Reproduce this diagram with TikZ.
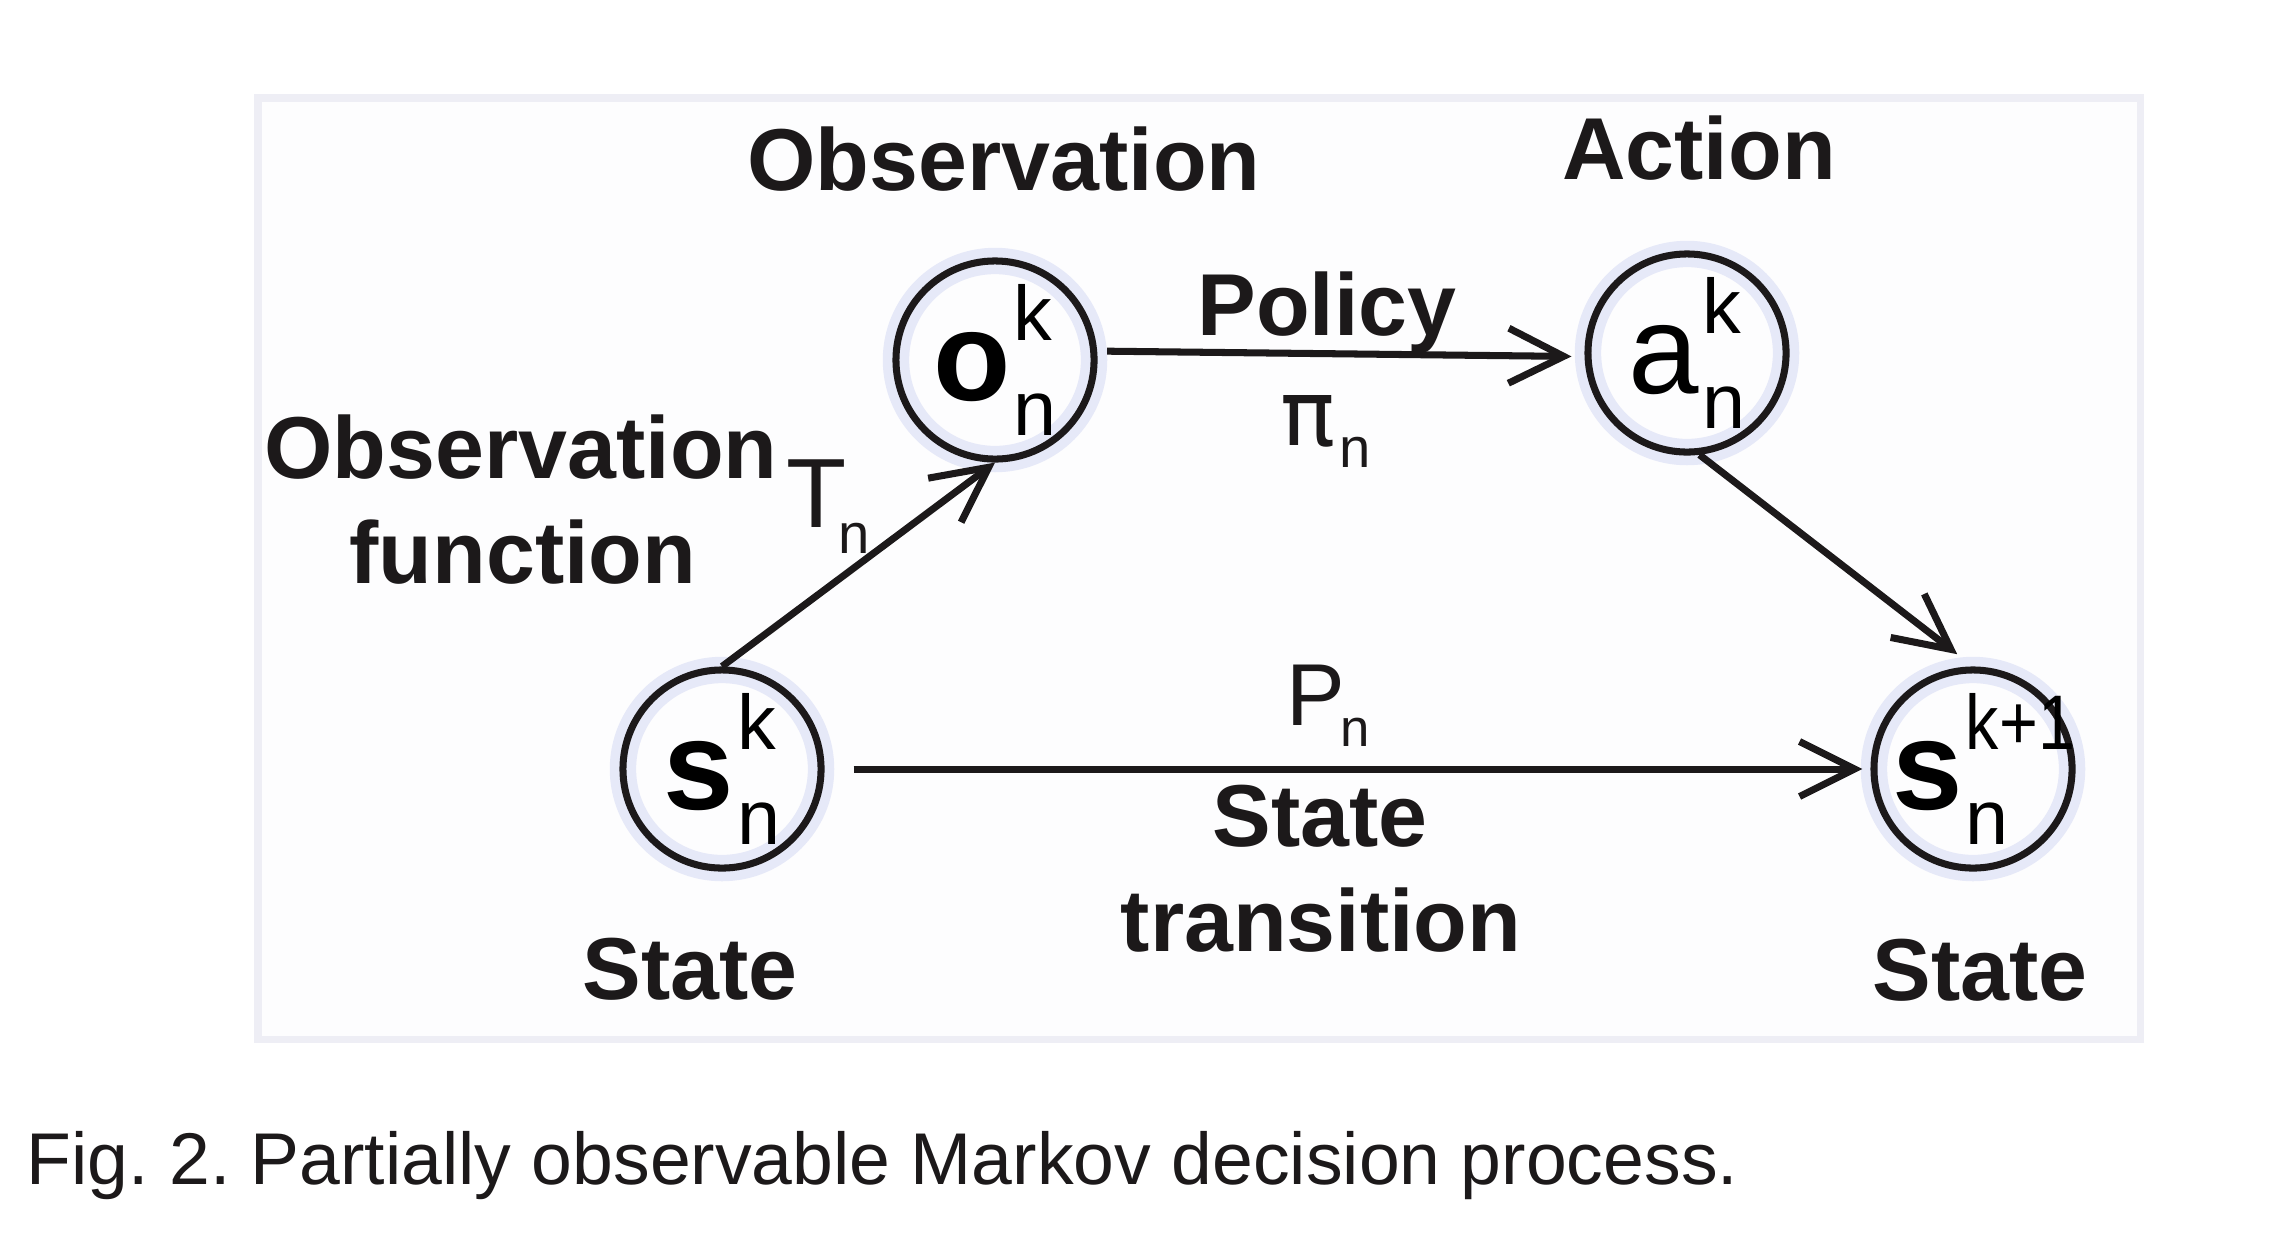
\documentclass[tikz,border=0pt]{standalone}
\usepackage{fontspec}
\usepackage{graphicx}
\setmainfont{Liberation Sans}
\newfontfamily\pifont{DejaVu Sans}
\usetikzlibrary{arrows.meta}

\definecolor{framegray}{RGB}{238,238,245}
\definecolor{paperwhite}{RGB}{253,253,254}
\definecolor{haloblue}{RGB}{230,233,248}
\definecolor{inkblack}{RGB}{28,25,26}

\newsavebox\supbox
\newsavebox\subbox
\newlength\stackwd
% main letter with k on top of n, both to its right
\newcommand{\stvar}[4][0pt]{\makebox[0pt]{\hspace*{#1}{\fontsize{36}{36}\selectfont #2}\hspace{1pt}%
  \sbox\supbox{\fontsize{22}{22}\selectfont #3}\sbox\subbox{\fontsize{22}{22}\selectfont #4}%
  \ifdim\wd\supbox>\wd\subbox\setlength\stackwd{\wd\supbox}\else\setlength\stackwd{\wd\subbox}\fi
  \makebox[\stackwd][l]{\rlap{\raisebox{17pt}{\usebox\supbox}}\raisebox{-10pt}{\usebox\subbox}}}}

\begin{document}
\frenchspacing
\begin{tikzpicture}[x=0.01cm, y=-0.01cm,
    state/.style={circle, draw=inkblack, line width=2pt, minimum size=1.98cm, inner sep=0pt,
        preaction={draw=haloblue, line width=7.5pt}},
    flow/.style={draw=inkblack, line width=2pt, -{Straight Barb[length=0.55cm, width=0.55cm]}},
    lbl/.style={anchor=base, inner sep=0pt, text=inkblack, font=\fontsize{25}{25}\selectfont\bfseries},
    sym/.style={anchor=base west, inner sep=0pt, text=inkblack}]
    \useasboundingbox (0,0) rectangle (2286,1242);
    \draw[framegray, line width=2pt, fill=paperwhite] (258,98) rectangle (2140,1039);

    \node[state] (sk)  at (722,769)  {\stvar{\bfseries s}{k}{n}};
    \node[state] (ok)  at (995,360)  {\stvar{\bfseries o}{k}{n}};
    \node[state] (ak)  at (1687,353) {\stvar{a}{k}{n}};
    \node[state] (sk1) at (1973,769) {\stvar[6pt]{\bfseries s}{\scalebox{0.86}[1]{k+1}}{n}};

    \node[lbl] (obstop) at (1004,190) {Observation};
    \node[lbl] (acttop) at (1699,179) {Action};
    \node[lbl] (policy) at (1327,335) {Policy};
    \node[lbl] (obsfuna) at (521,478) {Observation};
    \node[lbl] (obsfunb) at (523,583) {function};
    \node[lbl] (trana) at (1320,846) {State};
    \node[lbl] (tranb) at (1321,951) {transition};
    \node[lbl] (stleft) at (690,999) {State};
    \node[lbl] (stright) at (1980,1000) {State};

    \node[sym] (pin) at (1280,445) {{\pifont\fontsize{26}{26}\selectfont π}\kern1pt\raisebox{-6.5pt}{\fontsize{16}{16}\selectfont n}};
    \node[sym] (tn) at (786,527) {{\fontsize{28}{28}\selectfont T}\kern-2.5pt\raisebox{-7.4pt}{\fontsize{16}{16}\selectfont n}};
    \node[sym] (pn) at (1286,725) {{\fontsize{25}{25}\selectfont P}\kern-1.5pt\raisebox{-6pt}{\fontsize{15}{15}\selectfont n}};

    \draw[flow] (sk.north) -- (ok.south);
    \draw[flow, shorten <=0.1cm, shorten >=0.13cm] (ok.5) -- (ak.182);
    \draw[flow, shorten >=0.2cm] (ak.-83) -- (sk1.north);
    \draw[flow, shorten <=0.29cm, shorten >=0.08cm] (sk) -- (sk1);

%    \draw[red] (0,0) grid[step=100] (2286,1242);

    \node[anchor=base west, inner sep=0pt, text=inkblack, font=\fontsize{20.85}{24}\selectfont] (caption) at (26,1184)
        {Fig. 2. Partially observable Markov decision process.};
\end{tikzpicture}
\end{document}
